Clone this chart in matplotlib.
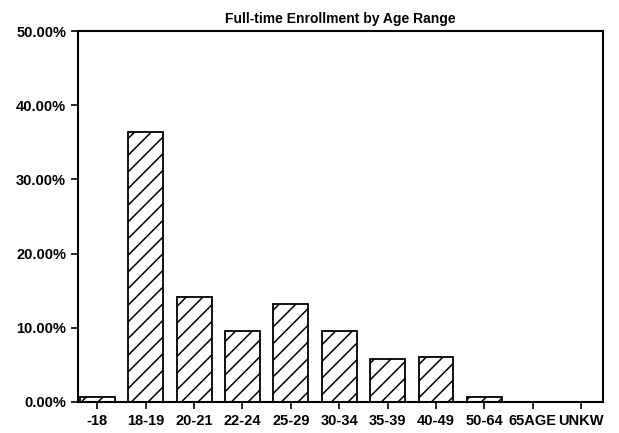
import matplotlib.pyplot as plt
from matplotlib.ticker import FuncFormatter

age_ranges = ['-18', '18-19', '20-21', '22-24', '25-29', '30-34',
              '35-39', '40-49', '50-64', '65AGE', 'UNKW']
enrollment_pct = [0.6, 36.4, 14.1, 9.6, 13.2, 9.5, 5.8, 6.1, 0.6, 0.0, 0.0]

plt.rcParams['font.family'] = ['Liberation Sans', 'DejaVu Sans']
plt.rcParams['hatch.linewidth'] = 1.1

fig = plt.figure(figsize=(6.19, 4.33), dpi=100)
ax = fig.add_axes([0.126, 0.072, 0.848, 0.856])

x = range(len(age_ranges))
ax.bar(x, enrollment_pct, width=0.72, color='white', edgecolor='black',
       linewidth=1.3, hatch='//')

ax.set_xlim(-0.4, 10.45)
ax.set_ylim(0, 50)
ax.set_yticks([0, 10, 20, 30, 40, 50])
ax.yaxis.set_major_formatter(FuncFormatter(lambda v, p: f'{v:.2f}%'))
ax.set_xticks(list(x))
ax.set_xticklabels(age_ranges)

for spine in ax.spines.values():
    spine.set_linewidth(1.5)
ax.tick_params(axis='both', direction='out', length=5, width=1.2,
               labelsize=10.5)
for lbl in ax.get_xticklabels() + ax.get_yticklabels():
    lbl.set_fontweight('bold')

ax.set_title('Full-time Enrollment by Age Range', fontsize=10,
             fontweight='bold', pad=6)

fig.savefig('out.png', dpi=100)
